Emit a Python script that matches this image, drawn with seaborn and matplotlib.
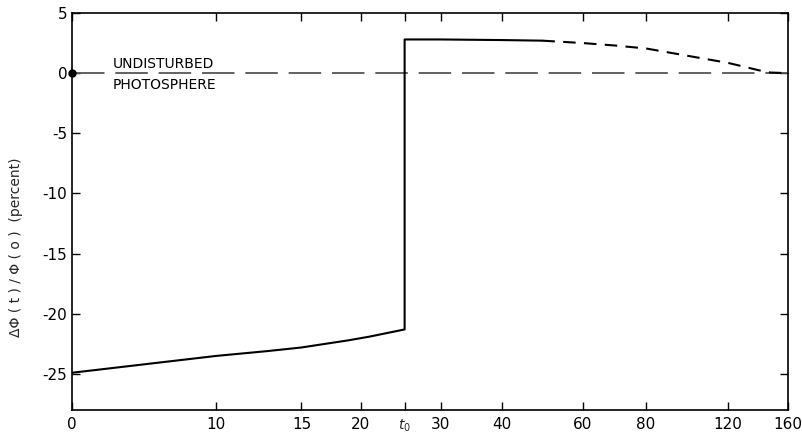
import numpy as np
import matplotlib
matplotlib.use("Agg")
import matplotlib.pyplot as plt
import seaborn as sns

# Значения
tick_vals = [0, 10, 15, 20, 25, 30, 40, 60, 80, 120, 160]
tick_labels = ['0', '10', '15', '20', '', '30', '40', '60', '80', '120', '160']
# нелинейная (нарисованная от руки) шкала времени: положение делений в пикселях
tick_pos = [0, 144, 229, 288, 332, 368, 429, 510, 573, 655, 715]

y_ticks = [5, 0, -5, -10, -15, -20, -25]

t_solid = [0, 5, 10, 13, 15, 17, 19, 21, 23, 25, 25, 30, 40, 50]
y_solid = [-24.9, -24.2, -23.5, -23.1, -22.8, -22.5, -22.2, -21.9, -21.6, -21.3,
           2.8, 2.8, 2.75, 2.7]

t_dash = [50, 60, 70, 80, 90, 100, 110, 120, 130, 140, 148, 160]
y_dash = [2.7, 2.5, 2.3, 2.05, 1.75, 1.45, 1.15, 0.85, 0.55, 0.25, 0.05, 0.0]

t_base = [0, 160]
y_base = [0, 0]

t0 = 25

sns.set_style("ticks")
plt.rcParams['font.family'] = ['DejaVu Sans']
plt.rcParams['axes.unicode_minus'] = False

fig = plt.figure(figsize=(8.03, 4.33), dpi=100)
ax = fig.add_axes([0.0897, 0.053, 0.892, 0.917])


def fwd(t):
    return np.interp(t, tick_vals, tick_pos)


def inv(p):
    return np.interp(p, tick_pos, tick_vals)


ax.set_xscale('function', functions=(fwd, inv))

# невозмущённая фотосфера
sns.lineplot(x=t_base, y=y_base, ax=ax, color='#555555', linewidth=1.3,
             estimator=None, sort=False)
ax.lines[-1].set_dashes([18, 6])
ax.plot([0], [0], 'o', color='black', markersize=5, clip_on=False, zorder=5)

sns.lineplot(x=t_solid, y=y_solid, ax=ax, color='black', linewidth=1.5,
             estimator=None, sort=False)
sns.lineplot(x=t_dash, y=y_dash, ax=ax, color='black', linewidth=1.5,
             estimator=None, sort=False)
ax.lines[-1].set_dashes([6, 4])

ax.set_xlim(0, 160)
ax.set_ylim(-28, 5)
ax.set_xticks(tick_vals)
ax.set_xticklabels(tick_labels)
ax.set_yticks(y_ticks)
ax.tick_params(direction='in', top=True, right=True, length=6, width=1,
               labelsize=11, colors='black')
ax.tick_params(axis='x', pad=5)
ax.minorticks_off()
for s in ax.spines.values():
    s.set_color('black')
    s.set_linewidth(1.2)

ax.text(t0, -0.04, '$t_0$', transform=ax.get_xaxis_transform(),
        ha='center', va='center', fontsize=10)

ax.text(2.8, 0.2, 'UNDISTURBED', fontsize=10, ha='left', va='bottom', color='black')
ax.text(2.8, -0.4, 'PHOTOSPHERE', fontsize=10, ha='left', va='top', color='black')

ax.set_ylabel('ΔΦ ( t ) / Φ ( o )  (percent)', fontsize=10, labelpad=4)
ax.yaxis.set_label_coords(-0.068, 0.41)

fig.savefig('out.png', dpi=100)
